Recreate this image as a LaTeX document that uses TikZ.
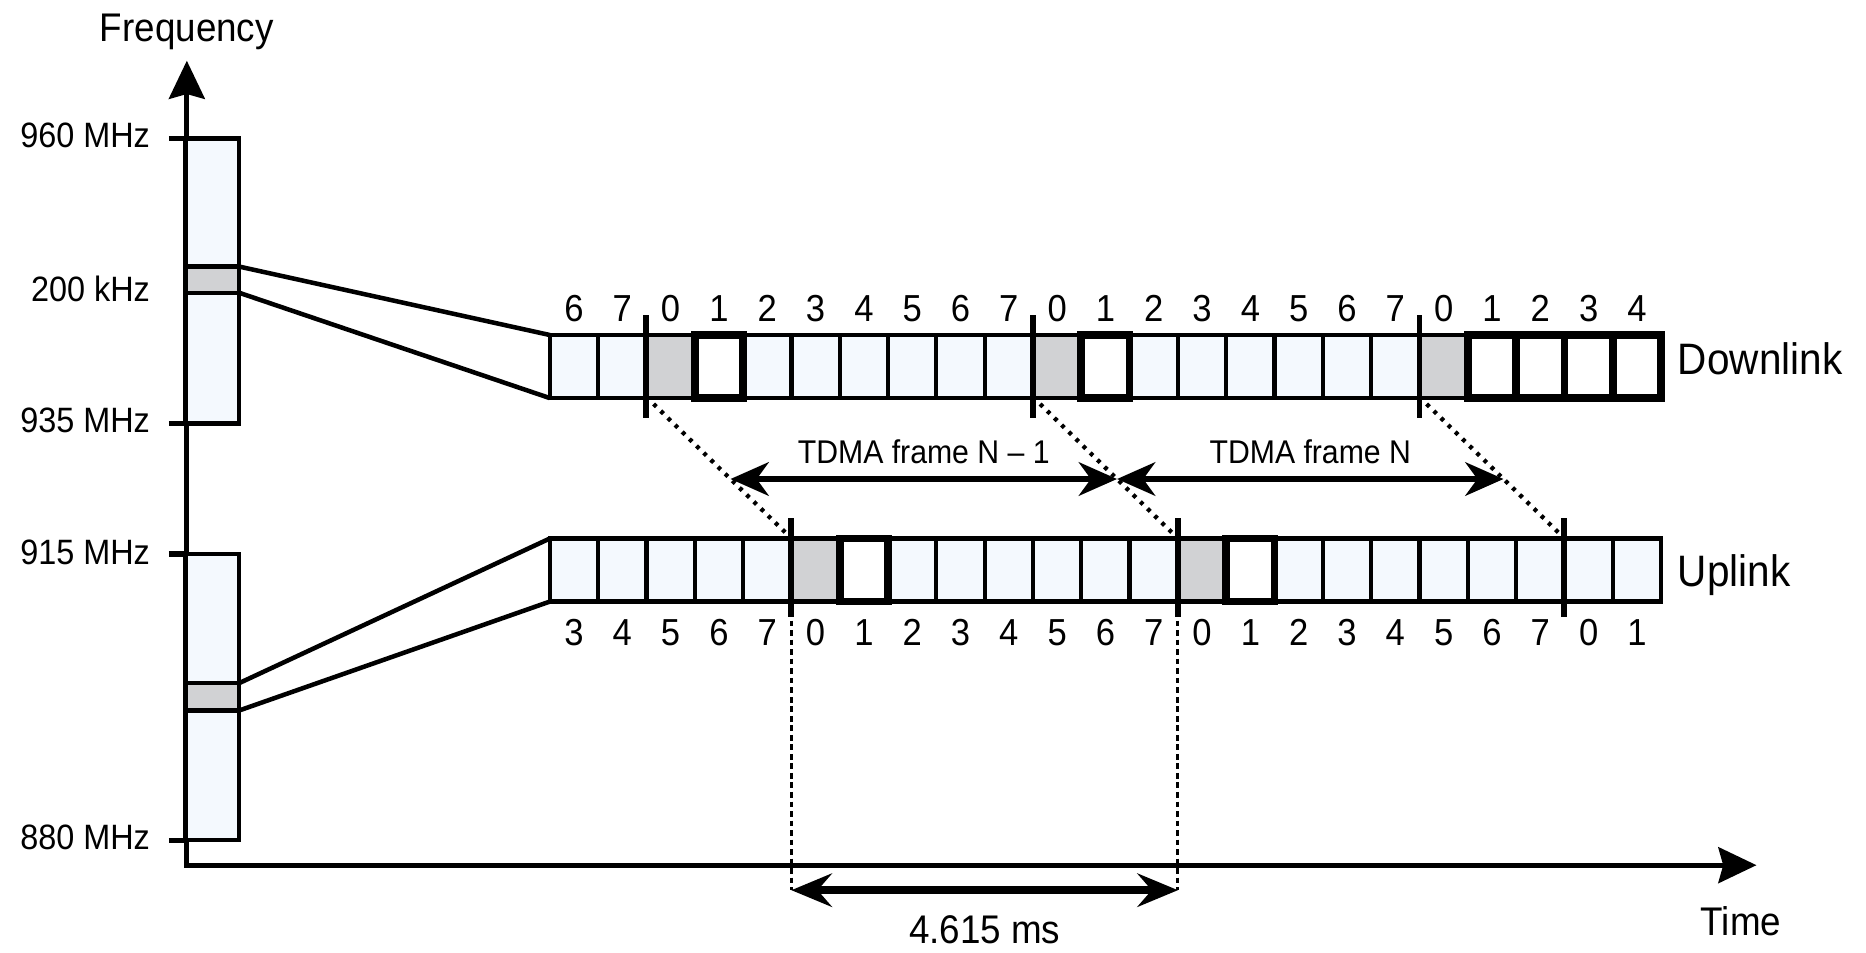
\documentclass[tikz,border=0pt]{standalone}
\usepackage{fontspec}
\setmainfont{Liberation Sans}[FakeStretch=0.92]
\usetikzlibrary{arrows.meta,calc}
\definecolor{slotfill}{HTML}{F4F9FE}
\definecolor{grayfill}{HTML}{D1D2D4}
\begin{document}
\begin{tikzpicture}[x=0.5pt,y=-0.5pt,
  slot/.style={draw, line width=1.8pt, fill=slotfill, minimum width=20.3pt, minimum height=26.5pt, inner sep=0pt, outer sep=0pt},
  gslot/.style={slot, fill=grayfill},
  wslot/.style={slot, fill=white, line width=3.2pt},
  band/.style={draw, line width=1.9pt, fill=slotfill, minimum width=22.5pt, inner sep=0pt, outer sep=0pt},
  gband/.style={band, fill=grayfill, minimum height=11pt},
  txt/.style={inner sep=0pt, outer sep=0pt},
  num/.style={txt, font=\fontsize{15.8}{15.8}\selectfont, anchor=base},
  flab/.style={txt, font=\fontsize{14.8}{14.8}\selectfont, anchor=base east},
  axisline/.style={line width=2.2pt, line join=miter, {Stealth[length=16pt,width=15pt,inset=2pt]}-{Stealth[length=16pt,width=15pt,inset=2pt]}},
  tickline/.style={line width=2.2pt},
  marker/.style={line width=2.5pt},
  link/.style={line width=1.9pt},
  dotline/.style={line width=1.8pt, dash pattern=on 1.6pt off 2.6pt},
  vdash/.style={line width=1.3pt, dash pattern=on 2.4pt off 1.6pt},
  dim/.style={line width=2.8pt, {Stealth[length=16pt,width=14pt,inset=5pt]}-{Stealth[length=16pt,width=14pt,inset=5pt]}},
  dimb/.style={line width=3.2pt, {Stealth[length=17pt,width=14pt,inset=6pt]}-{Stealth[length=17pt,width=14pt,inset=6pt]}},
]
\useasboundingbox (0,0) rectangle (1568,800);

% axes
\coordinate (ftop) at (157,51);
\coordinate (O) at (157,727);
\coordinate (tend) at (1476,727);
\draw[axisline] (ftop) -- (O) -- (tend);
\node[txt, font=\fontsize{16.8}{16.8}\selectfont, anchor=base] (freq) at (157,35) {Frequency};
\node[txt, font=\fontsize{16.8}{16.8}\selectfont, anchor=base] (time) at (1463,786) {Time};

% ticks and labels
\foreach \y in {116.5,356,465.5,706} \draw[tickline] (142,\y) -- (157,\y);
\node[flab] (l960) at (126,124) {960 MHz};
\node[flab] (l200) at (126,253) {200 kHz};
\node[flab] (l935) at (126,363.5) {935 MHz};
\node[flab] (l915) at (126,474) {915 MHz};
\node[flab] (l880) at (126,714) {880 MHz};

% frequency bands
\node[band, minimum height=119.75pt] (hb) at (178.5,236.25) {};
\node[gband] (hg) at (178.5,235) {};
\node[band, minimum height=120.25pt] (lb) at (178.5,585.75) {};
\node[gband, minimum height=11.5pt] (lg) at (178.5,585.5) {};

% slots
\foreach \i in {0,...,22} {
  \pgfmathsetmacro\xc{482.3+40.6*\i}
  \pgfmathtruncatemacro\dl{mod(\i+6,8)}
  \pgfmathtruncatemacro\ul{mod(\i+3,8)}
  \node[slot] (d\i) at (\xc,308) {};
  \node[slot] (u\i) at (\xc,479) {};
  \node[num] (dn\i) at (\xc,270.5) {\dl};
  \node[num] (un\i) at (\xc,542) {\ul};
}
\foreach \i in {2,10,18} \node[gslot] (d\i) at ({482.3+40.6*\i},308) {};
\foreach \i in {5,13} \node[gslot] (u\i) at ({482.3+40.6*\i},479) {};
\foreach \i in {3,11,19,20,21,22} \node[wslot] (d\i) at ({482.3+40.6*\i},308) {};
\foreach \i in {6,14} \node[wslot] (u\i) at ({482.3+40.6*\i},479) {};

% links from bands to rows
\draw[link] (hg.north east) -- (d0.north west);
\draw[link] (hg.south east) -- (d0.south west);
\draw[link] (lg.north east) -- (u0.north west);
\draw[link] (lg.south east) -- (u0.south west);

% dotted diagonals
\foreach \a/\b/\k in {2/5/1,10/13/2,18/21/3} {
  \coordinate (p\k) at ([xshift=3pt,yshift=-2.5pt]d\a.south west);
  \coordinate (q\k) at ([xshift=-2pt,yshift=2pt]u\b.north west);
  \draw[dotline] (p\k) -- (q\k);
  \coordinate (a\k) at ($(p\k)!0.578!(q\k)$);
}

% frame markers
\foreach \i in {2,10,18} \draw[marker] ([yshift=8.3pt]d\i.north west) -- ([yshift=-8.3pt]d\i.south west);
\foreach \i in {5,13,21} \draw[marker] ([yshift=8.5pt]u\i.north west) -- ([yshift=-6.5pt]u\i.south west);

% TDMA frame arrows
\draw[dim] (a1) -- (a2);
\draw[dim] (a2) -- (a3);
\node[txt, font=\fontsize{13.8}{13.8}\selectfont, anchor=base] (tf1) at ($(a1)!0.5!(a2)+(0,-13)$) {TDMA frame N – 1};
\node[txt, font=\fontsize{13.8}{13.8}\selectfont, anchor=base] (tf2) at ($(a2)!0.5!(a3)+(0,-13)$) {TDMA frame N};

% 4.615 ms
\coordinate (bl) at (0,748);
\coordinate (b1) at (u5.south west |- bl);
\coordinate (b2) at (u13.south west |- bl);
\draw[vdash] (u5.south west) -- (b1);
\draw[vdash] (u13.south west) -- (b2);
\draw[dimb] (b1) -- (b2);
\node[txt, font=\fontsize{16.8}{16.8}\selectfont, anchor=base] (ms) at ($(b1)!0.5!(b2)+(0,45)$) {4.615 ms};

% row labels
\node[txt, font=\fontsize{18.5}{18.5}\selectfont, anchor=base west] (dlab) at (1410,315) {Downlink};
\node[txt, font=\fontsize{18.5}{18.5}\selectfont, anchor=base west] (ulab) at (1410,493) {Uplink};
\end{tikzpicture}
\end{document}
